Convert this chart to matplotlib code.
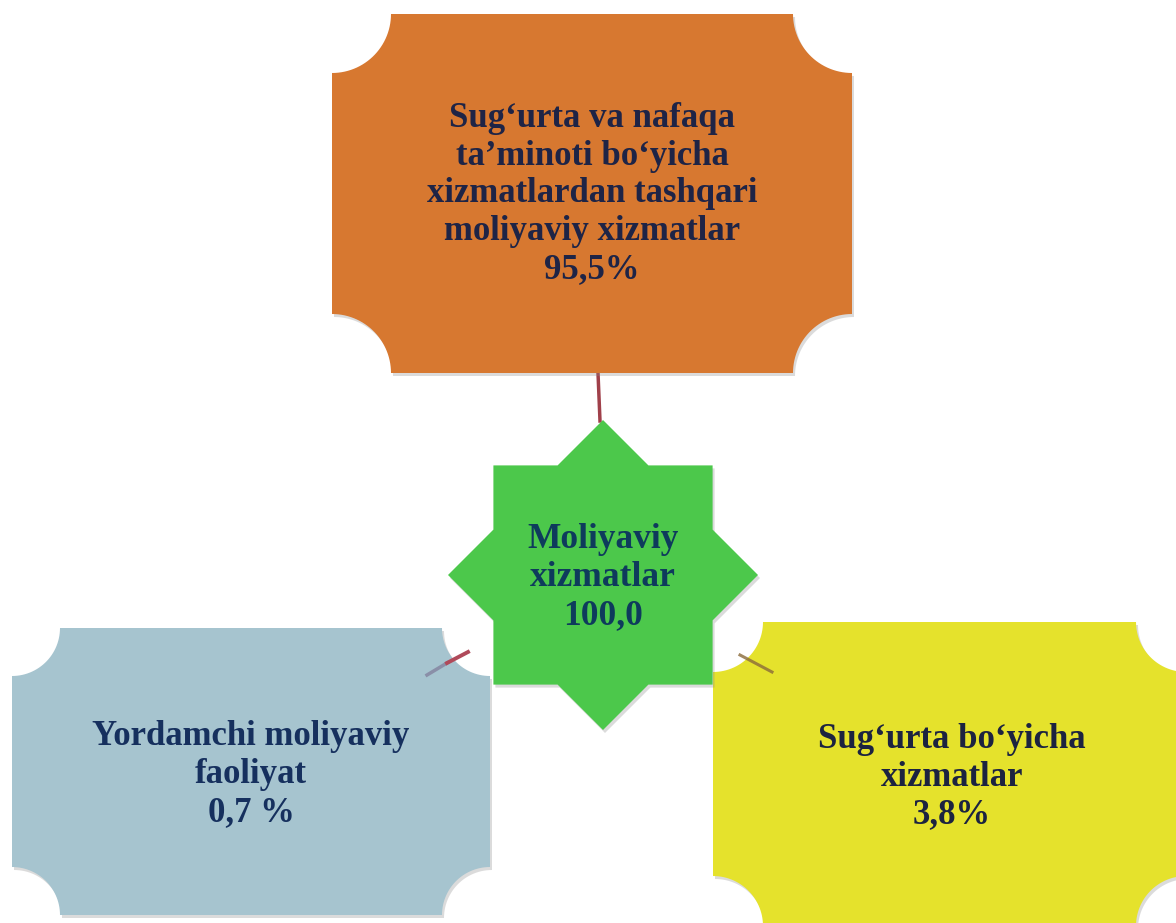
import numpy as np
import matplotlib
matplotlib.use("Agg")
import matplotlib.pyplot as plt
from matplotlib.patches import Polygon

# ---- data ----
center_label = ["Moliyaviy", "xizmatlar"]
center_value = "100,0"
top_label = ["Sug‘urta va nafaqa", "ta’minoti bo‘yicha", "xizmatlardan tashqari", "moliyaviy xizmatlar"]
top_value = "95,5%"
left_label = ["Yordamchi moliyaviy", "faoliyat"]
left_value = "0,7 %"
right_label = ["Sug‘urta bo‘yicha", "xizmatlar"]
right_value = "3,8%"

W, H = 1176, 923
fig = plt.figure(figsize=(W / 100, H / 100), dpi=100)
ax = fig.add_axes([0, 0, 1, 1])
ax.set_xlim(0, W)
ax.set_ylim(H, 0)
ax.axis("off")


def plaque(x0, y0, x1, y1, r, n=30):
    pts = [(x0 + r, y0), (x1 - r, y0)]
    t = np.linspace(np.pi, np.pi / 2, n)
    pts += list(zip(x1 + r * np.cos(t), y0 + r * np.sin(t)))
    pts += [(x1, y1 - r)]
    t = np.linspace(1.5 * np.pi, np.pi, n)
    pts += list(zip(x1 + r * np.cos(t), y1 + r * np.sin(t)))
    pts += [(x0 + r, y1)]
    t = np.linspace(2 * np.pi, 1.5 * np.pi, n)
    pts += list(zip(x0 + r * np.cos(t), y1 + r * np.sin(t)))
    pts += [(x0, y0 + r)]
    t = np.linspace(np.pi / 2, 0, n)
    pts += list(zip(x0 + r * np.cos(t), y0 + r * np.sin(t)))
    return np.array(pts)


def draw_shape(pts, color, z):
    sh = pts + np.array([2, 3])
    ax.add_patch(Polygon(sh, closed=True, facecolor="#8a8a8a", alpha=0.3, edgecolor="none", zorder=z - 0.1))
    ax.add_patch(Polygon(pts, closed=True, facecolor=color, edgecolor="none", zorder=z))


# connectors
ax.plot([598, 600], [373, 421], color="#a0404a", lw=2.5, zorder=1)
ax.plot([427, 447], [675, 663], color="#8a8fa8", lw=2.5, zorder=5)
ax.plot([447, 468], [663, 652], color="#b04a5a", lw=2.8, zorder=5)
ax.plot([740, 772], [655, 672], color="#8a6a3a", lw=2.2, zorder=5, alpha=0.8)

# boxes
draw_shape(plaque(332, 14, 852, 373, 59), "#d77830", 2)
draw_shape(plaque(12, 628, 490, 915, 48), "#a6c4cf", 2)
draw_shape(plaque(713, 622, 1186, 926, 50), "#e5e22c", 2)

# star
cx, cy, R = 603, 575, 155
ang = np.pi / 2 + np.arange(16) * np.pi / 8
rad = np.where(np.arange(16) % 2 == 0, R, R * np.cos(np.pi / 4) / np.cos(np.pi / 8))
star = np.column_stack([cx + rad * np.cos(ang), cy - rad * np.sin(ang)])
draw_shape(star, "#4cc84b", 3)

fam = ["Liberation Serif", "DejaVu Serif"]


def lines(x, baselines, texts, size, color):
    for yb, s in zip(baselines, texts):
        ax.text(x, yb, s, ha="center", va="baseline", fontsize=size, fontweight="bold",
                family=fam, color=color, zorder=10)


lines(592, [127, 165, 202, 240, 278], top_label + [top_value], 25, "#1e2446")
lines(603, [548, 586, 624], center_label + [center_value], 25.5, "#0e3b5c")
lines(251, [745, 783, 821], left_label + [left_value], 25, "#16305e")
lines(952, [748, 786, 823], right_label + [right_value], 25, "#1c2340")

fig.savefig("out.png", dpi=100)
